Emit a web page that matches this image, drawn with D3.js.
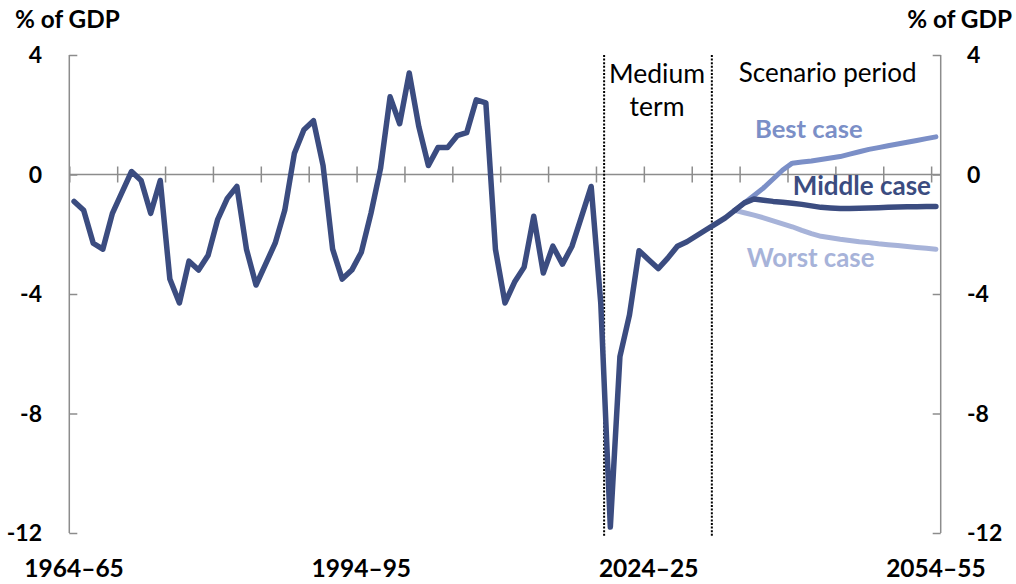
<!DOCTYPE html>
<html>
<head>
<meta charset="utf-8">
<script src="https://cdn.jsdelivr.net/npm/d3@7"></script>
<style>
  html, body { margin: 0; padding: 0; background: #fff; }
  svg { display: block; font-family: Lato, "Noto Sans", sans-serif; }
</style>
</head>
<body>
<svg id="chart" width="1016" height="584"></svg>
<script>
// ---- Data ----
const categories = d3.range(1964, 2055).map(yr => `${yr}–${String(yr + 1).slice(2)}`);
const tickLabels = ["1964–65", "1994–95", "2024–25", "2054–55"];
const yTicks = [4, 0, -4, -8, -12];

// Historical + medium-term projection (1964–65 to 2033–34)
const historical = [
  -0.9, -1.2, -2.3, -2.5, -1.3, -0.6, 0.1, -0.2, -1.3, -0.2,
  -3.5, -4.3, -2.9, -3.2, -2.7, -1.5, -0.8, -0.4, -2.5, -3.7,
  -3.0, -2.3, -1.2, 0.7, 1.5, 1.8, 0.3, -2.5, -3.5, -3.2,
  -2.6, -1.3, 0.2, 2.6, 1.7, 3.4, 1.6, 0.3, 0.9, 0.9,
  1.3, 1.4, 2.5, 2.4, -2.5, -4.3, -3.6, -3.1, -1.4, -3.3,
  -2.4, -3.0, -2.4, -1.4, -0.4, -4.3, -11.8, -6.1, -4.7, -2.55,
  -2.85, -3.15, -2.8, -2.4, -2.25, -2.05, -1.85, -1.65, -1.45, -1.2
];
// Scenario series start at 2033–34 (index 69) and run to 2054–55
const scenarioStart = 69;
const bestCase = [
  -1.2, -0.95, -0.7, -0.45, -0.15, 0.15, 0.38, 0.42, 0.45, 0.5,
  0.55, 0.6, 0.68, 0.76, 0.84, 0.9, 0.96, 1.02, 1.08, 1.14,
  1.2, 1.26
];
const middleCase = [
  -1.2, -0.95, -0.82, -0.86, -0.9, -0.93, -0.96, -1.0, -1.05, -1.1,
  -1.12, -1.14, -1.14, -1.13, -1.12, -1.11, -1.1, -1.09, -1.08, -1.08,
  -1.07, -1.07
];
const worstCase = [
  -1.2, -1.28, -1.36, -1.45, -1.55, -1.65, -1.75, -1.87, -1.98, -2.07,
  -2.12, -2.17, -2.21, -2.25, -2.28, -2.32, -2.35, -2.38, -2.41, -2.44,
  -2.47, -2.5
];
// Period dividers (in category units from the start of 1964–65)
const dividers = [55.85, 67.1];

// ---- Layout ----
const svg = d3.select("#chart");
const pLeft = 69.3, pRight = 940.7, pTop = 55, pBottom = 533;
const x = d3.scaleLinear().domain([0, categories.length]).range([pLeft, pRight]);
const y = d3.scaleLinear().domain([-12, 4]).range([pBottom, pTop]);
const xc = i => x(i + 0.5);

const axisColor = "#8c8c8c";
const colMain = "#3B4C80", colBest = "#7B8FC7", colWorst = "#A7B3D9";

// Left axis
const gL = svg.append("g").attr("transform", `translate(${pLeft},0)`)
  .call(d3.axisRight(y).tickValues(yTicks).tickSize(8).tickFormat(""));
// Right axis
const gR = svg.append("g").attr("transform", `translate(${pRight},0)`)
  .call(d3.axisLeft(y).tickValues(yTicks).tickSize(8).tickFormat(""));
[gL, gR].forEach(g => {
  g.select(".domain").attr("d", `M0,${pTop}V${pBottom}`).attr("stroke", axisColor).attr("stroke-width", 1.5);
  g.selectAll(".tick line").attr("stroke", axisColor).attr("stroke-width", 1.5);
});

// Zero x-axis with crossing ticks every 5 categories
const xTickVals = d3.range(0, categories.length, 5);
const gX = svg.append("g").attr("transform", `translate(0,${y(0)})`)
  .call(d3.axisBottom(x).tickValues(xTickVals).tickSizeInner(8).tickSizeOuter(0).tickFormat(""));
gX.select(".domain").attr("d", `M${pLeft},0H${pRight}`).attr("stroke", axisColor).attr("stroke-width", 1.5);
gX.selectAll(".tick line").attr("y1", -8).attr("y2", 8).attr("stroke", axisColor).attr("stroke-width", 1.5);

// Tick labels (y)
svg.append("g").selectAll("text").data(yTicks).join("text")
  .attr("x", 42).attr("y", d => y(d)).attr("dy", "0.36em")
  .attr("text-anchor", "end").attr("font-weight", "bold").attr("font-size", 23).attr("fill", "#000")
  .text(d => d);
svg.append("g").selectAll("text").data(yTicks).join("text")
  .attr("x", 967).attr("y", d => y(d)).attr("dy", "0.36em")
  .attr("text-anchor", "start").attr("font-weight", "bold").attr("font-size", 23).attr("fill", "#000")
  .text(d => d);

// Tick labels (x)
svg.append("g").selectAll("text").data(tickLabels).join("text")
  .attr("x", d => xc(categories.indexOf(d))).attr("y", 577)
  .attr("text-anchor", "middle").attr("font-weight", "bold").attr("font-size", 24.5).attr("fill", "#000")
  .text(d => d);

// Axis titles
svg.append("text").attr("x", 15).attr("y", 28).attr("font-weight", "bold").attr("font-size", 24.3).text("% of GDP");
svg.append("text").attr("x", 1012).attr("y", 28).attr("text-anchor", "end").attr("font-weight", "bold").attr("font-size", 24.3).text("% of GDP");

// Dividers
svg.append("g").selectAll("line").data(dividers).join("line")
  .attr("x1", d => x(d)).attr("x2", d => x(d))
  .attr("y1", pTop).attr("y2", pBottom + 3)
  .attr("stroke", "#000").attr("stroke-width", 2).attr("stroke-dasharray", "2,1.6");

// Lines
const line = d3.line().x(d => xc(d.i)).y(d => y(d.v));
const toPts = (arr, off) => arr.map((v, k) => ({ i: k + off, v }));
const series = [
  { data: toPts(worstCase, scenarioStart), color: colWorst, w: 5 },
  { data: toPts(bestCase, scenarioStart), color: colBest, w: 5 },
  { data: toPts(middleCase, scenarioStart), color: colMain, w: 5.5 },
  { data: toPts(historical, 0), color: colMain, w: 5.5 }
];
svg.append("g").selectAll("path").data(series).join("path")
  .attr("d", d => line(d.data)).attr("fill", "none")
  .attr("stroke", d => d.color).attr("stroke-width", d => d.w)
  .attr("stroke-linejoin", "round").attr("stroke-linecap", "round");

// Annotations
svg.append("text").attr("x", 657).attr("y", 83).attr("text-anchor", "middle").attr("font-size", 26.5).text("Medium");
svg.append("text").attr("x", 657).attr("y", 116).attr("text-anchor", "middle").attr("font-size", 26.5).text("term");
svg.append("text").attr("x", 827.7).attr("y", 82).attr("text-anchor", "middle").attr("font-size", 26).text("Scenario period");
svg.append("text").attr("x", 755).attr("y", 138).attr("font-weight", "bold").attr("font-size", 25.6).attr("fill", colBest).text("Best case");
svg.append("text").attr("x", 931).attr("y", 195).attr("text-anchor", "end").attr("font-weight", "bold").attr("font-size", 26).attr("fill", colMain).text("Middle case");
svg.append("text").attr("x", 746.7).attr("y", 267).attr("font-weight", "bold").attr("font-size", 25.8).attr("fill", colWorst).text("Worst case");
</script>
</body>
</html>
